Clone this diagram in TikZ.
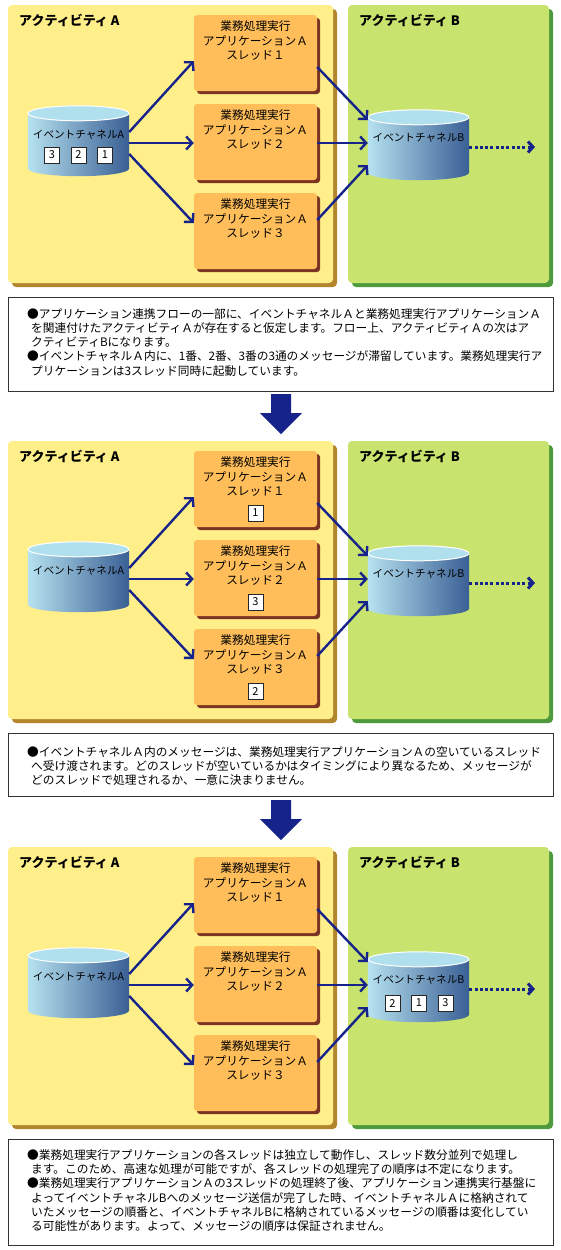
\documentclass[tikz,border=0pt]{standalone}
\usepackage{fontspec}
\setmainfont{Noto Sans CJK JP}
\usepackage{tikz}
\usetikzlibrary{arrows.meta,positioning,shadows}

\definecolor{actA}{HTML}{FFEF8A}
\definecolor{actAsh}{HTML}{B3862E}
\definecolor{actB}{HTML}{C9E46E}
\definecolor{actBsh}{HTML}{4F9A3C}
\definecolor{appfill}{HTML}{FFBE5A}
\definecolor{appsh}{HTML}{7B3322}
\definecolor{chlt}{HTML}{B6E2F0}
\definecolor{chdk}{HTML}{3A5F94}
\definecolor{chtop}{HTML}{B0DFEE}
\definecolor{navy}{HTML}{15238A}

\tikzset{
  activityA/.style={fill=actA, rounded corners=4pt, minimum width=325pt, minimum height=278pt,
    drop shadow={shadow xshift=4pt, shadow yshift=-4pt, fill=actAsh, opacity=1}},
  activityB/.style={fill=actB, rounded corners=4pt, minimum width=201pt, minimum height=278pt,
    drop shadow={shadow xshift=4pt, shadow yshift=-4pt, fill=actBsh, opacity=1}},
  acttitle/.style={anchor=west, inner sep=0pt, font=\fontsize{13}{15}\selectfont\bfseries},
  appbox/.style={fill=appfill, rounded corners=3pt, minimum width=123pt, minimum height=76pt,
    drop shadow={shadow xshift=3pt, shadow yshift=-3pt, fill=appsh, opacity=1}},
  applabel/.style={align=center, inner sep=0pt, font=\fontsize{11.7}{14.5}\selectfont},
  chanbox/.style={minimum width=101pt, minimum height=70pt, inner sep=0pt},
  chanlabel/.style={inner sep=0pt, font=\fontsize{10.6}{12}\selectfont},
  msg/.style={draw=black!85, fill=white, line width=0.8pt, minimum width=15pt, minimum height=16pt,
    inner sep=0pt, font=\fontsize{11}{12}\selectfont},
  flow/.style={navy, line width=2.4pt, -{Straight Barb[length=6pt, width=13pt]}},
  dotflow/.style={navy, line width=3pt, dash pattern=on 3pt off 2.3pt, -{Straight Barb[length=5pt, width=11pt]}},
  note/.style={draw=black!80, line width=0.9pt, fill=white, minimum width=545pt},
  notetext/.style={anchor=north west, align=left, inner sep=0pt, font=\fontsize{11.7}{14.3}\selectfont},
}

% cylinder drawn round an (empty) chanbox node
\newcommand\drawchan[1]{%
  \shade[left color=chlt, right color=chdk] ([yshift=-7.5pt]#1.north west) rectangle ([yshift=7.5pt]#1.south east);
  \shade[left color=chlt, right color=chdk] ([yshift=7.5pt]#1.south) ellipse [x radius=50.5pt, y radius=7.5pt];
  \filldraw[fill=chtop, draw=white, line width=1pt] ([yshift=-7.5pt]#1.north) ellipse [x radius=50.5pt, y radius=7.5pt];
}

\begin{document}
\begin{tikzpicture}[x=1pt, y=-1pt]
  \useasboundingbox (0,0) rectangle (560,1250);
  %--------------- activity A / activity B (three stages) ---------------
  \foreach \i/\off in {1/0,2/436,3/842}{
    \begin{scope}[shift={(0,\off)}]
      \node[activityA] (actA\i) at (170.5,144) {};
      \node[activityB] (actB\i) at (448.5,144) {};
      \node[acttitle] (ttlA\i) at (19,20) {アクティビティ A};
      \node[acttitle] (ttlB\i) at (359,20) {アクティビティ B};
      % threads of application A
      \node[appbox] (ap1\i) at (255.5,53) {};
      \node[appbox] (ap2\i) at (255.5,142) {};
      \node[appbox] (ap3\i) at (255.5,231) {};
      % event channels
      \node[chanbox] (chA\i) at (78.5,141) {};
      \node[chanbox] (chB\i) at (418.5,145) {};
      \coordinate (out\i) at (535,147);
    \end{scope}
    \node[applabel, below=6pt of ap1\i.north] (lb1\i) {業務処理実行\\アプリケーションＡ\\スレッド１};
    \node[applabel, below=6pt of ap2\i.north] (lb2\i) {業務処理実行\\アプリケーションＡ\\スレッド２};
    \node[applabel, below=6pt of ap3\i.north] (lb3\i) {業務処理実行\\アプリケーションＡ\\スレッド３};
    \drawchan{chA\i}
    \drawchan{chB\i}
    \node[chanlabel] (lchA\i) at ([yshift=6pt]chA\i.center) {イベントチャネルA};
    \node[chanlabel] (lchB\i) at ([yshift=7pt]chB\i.center) {イベントチャネルB};
    % arrows
    \draw[flow] ([yshift=9pt]chA\i.east) -- ([yshift=-8pt]ap1\i.west);
    \draw[flow] ([yshift=-2pt]chA\i.east) -- ([yshift=-1pt]ap2\i.west);
    \draw[flow] ([yshift=-13pt]chA\i.east) -- ([yshift=8pt]ap3\i.west);
    \draw[flow] ([yshift=-14pt]ap1\i.east) -- ([yshift=25pt]chB\i.west);
    \draw[flow] ([yshift=-1pt]ap2\i.east) -- ([yshift=2pt]chB\i.west);
    \draw[flow] ([yshift=11pt]ap3\i.east) -- ([yshift=-20pt]chB\i.west);
    \draw[dotflow] ([yshift=-2pt]chB\i.east) -- (out\i);
  }
  %--------------- messages ---------------
  \node[msg] (m3a) at (52,155) {3};
  \node[msg] (m2a) at (78.5,155) {2};
  \node[msg] (m1a) at (105,155) {1};
  \node[msg] (m1b) at (255.5,513) {1};
  \node[msg] (m3b) at (255.5,602) {3};
  \node[msg] (m2b) at (255.5,691) {2};
  \node[msg] (m2c) at (392.5,1003) {2};
  \node[msg] (m1c) at (419,1003) {1};
  \node[msg] (m3c) at (445.5,1003) {3};
  %--------------- notes ---------------
  \node[note, minimum height=94pt] (note1) at (280.5,344) {};
  \node[notetext] (txt1) at (27,308) {●アプリケーション連携フローの一部に、イベントチャネルＡと業務処理実行アプリケーションＡ\\
    \hspace*{4pt}を関連付けたアクティビティＡが存在すると仮定します。フロー上、アクティビティＡの次はア\\
    \hspace*{4pt}クティビティBになります。\\
    ●イベントチャネルＡ内に、1番、2番、3番の3通のメッセージが滞留しています。業務処理実行ア\\
    \hspace*{4pt}プリケーションは3スレッド同時に起動しています。};
  \node[note, minimum height=63pt] (note2) at (280.5,764.5) {};
  \node[notetext] (txt2) at (27,746) {●イベントチャネルＡ内のメッセージは、業務処理実行アプリケーションＡの空いているスレッド\\
    \hspace*{4pt}へ受け渡されます。どのスレッドが空いているかはタイミングにより異なるため、メッセージが\\
    \hspace*{4pt}どのスレッドで処理されるか、一意に決まりません。};
  \node[note, minimum height=106pt] (note3) at (280.5,1192) {};
  \node[notetext] (txt3) at (27,1149) {●業務処理実行アプリケーションの各スレッドは独立して動作し、スレッド数分並列で処理し\\
    \hspace*{4pt}ます。このため、高速な処理が可能ですが、各スレッドの処理完了の順序は不定になります。\\
    ●業務処理実行アプリケーションＡの3スレッドの処理終了後、アプリケーション連携実行基盤に\\
    \hspace*{4pt}よってイベントチャネルBへのメッセージ送信が完了した時、イベントチャネルＡに格納されて\\
    \hspace*{4pt}いたメッセージの順番と、イベントチャネルBに格納されているメッセージの順番は変化してい\\
    \hspace*{4pt}る可能性があります。よって、メッセージの順序は保証されません。};
  %--------------- stage arrows ---------------
  \fill[navy] (271,394) -- (291,394) -- (291,413) -- (302,413) -- (281,434) -- (260,413) -- (271,413) -- cycle;
  \fill[navy] (271,800) -- (291,800) -- (291,819) -- (302,819) -- (281,840) -- (260,819) -- (271,819) -- cycle;
\end{tikzpicture}
\end{document}
